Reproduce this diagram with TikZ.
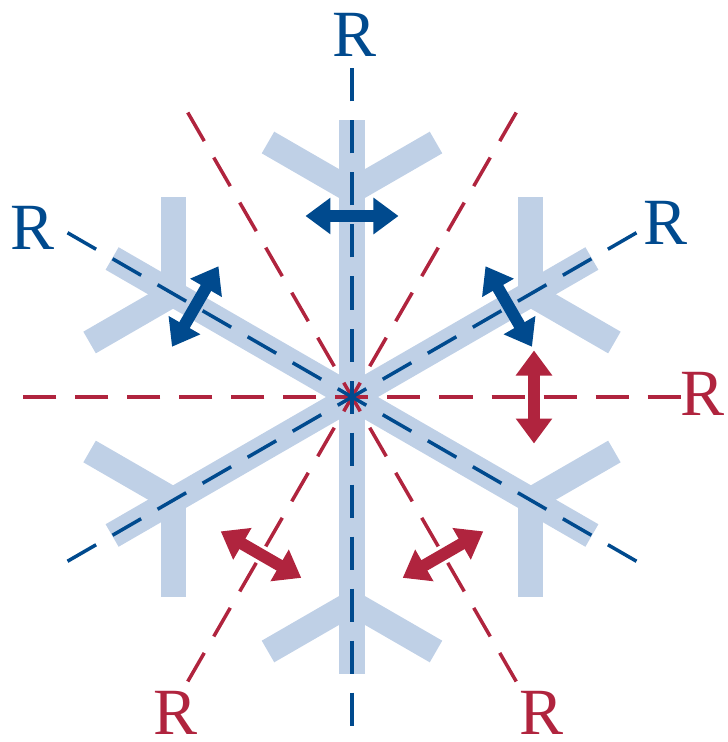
\documentclass[tikz,border=0pt]{standalone}
\usepackage{fontspec}
\setmainfont{Liberation Serif}
\usetikzlibrary{arrows.meta,calc}
\definecolor{armblue}{RGB}{191,208,230}
\definecolor{dblue}{RGB}{0,74,142}
\definecolor{dred}{RGB}{176,36,62}
\tikzset{
  armbar/.style={line width=26pt, armblue, line cap=butt},
  branchbar/.style={line width=25pt, armblue, line cap=butt},
  axisline/.style={line width=3.5pt, dash pattern=on 33pt off 19pt, dash phase=16.5pt, line cap=butt},
  dblarrow/.style={line width=12pt, {Triangle[length=25pt,width=35pt]}-{Triangle[length=25pt,width=35pt]}},
  rlabel/.style={inner sep=0pt, font=\fontsize{66}{70}\selectfont}
}
\begin{document}
\begin{tikzpicture}[x=1pt,y=1pt]
\useasboundingbox (-352,-345) rectangle (376,397);
\coordinate (C) at (0,0);
% arms and branches
\foreach \a in {90,30,150,210,270,330} {
  \draw[armbar] (C) -- (\a:277);
  \draw[branchbar] (\a:206) -- ++(\a+60:97);
  \draw[branchbar] (\a:206) -- ++(\a-60:97);
}
% red mirror lines
\foreach \a in {0,60,120,180,240,300} {
  \draw[axisline, dred] (C) -- (\a:330);
}
% blue mirror lines
\foreach \a in {30,90,150,210,270,330} {
  \draw[axisline, dblue] (C) -- (\a:330);
}
% blue arrows
\foreach \a in {90,150,30} {
  \draw[dblarrow, dblue] ($(\a:181)+(\a+90:46.5)$) -- ($(\a:181)+(\a-90:46.5)$);
}
% red arrows
\foreach \a in {0,240,300} {
  \draw[dblarrow, dred] ($(\a:182)+(\a+90:46.5)$) -- ($(\a:182)+(\a-90:46.5)$);
}
% labels
\node[rlabel, dblue] (Rt)  at (3,362.5) {R};
\node[rlabel, dblue] (Rul) at (-319,169.5) {R};
\node[rlabel, dblue] (Rur) at (314,174.5) {R};
\node[rlabel, dred]  (Rr)  at (351,3) {R};
\node[rlabel, dred]  (Rbl) at (-176,-316) {R};
\node[rlabel, dred]  (Rbr) at (190,-316) {R};
\end{tikzpicture}
\end{document}
